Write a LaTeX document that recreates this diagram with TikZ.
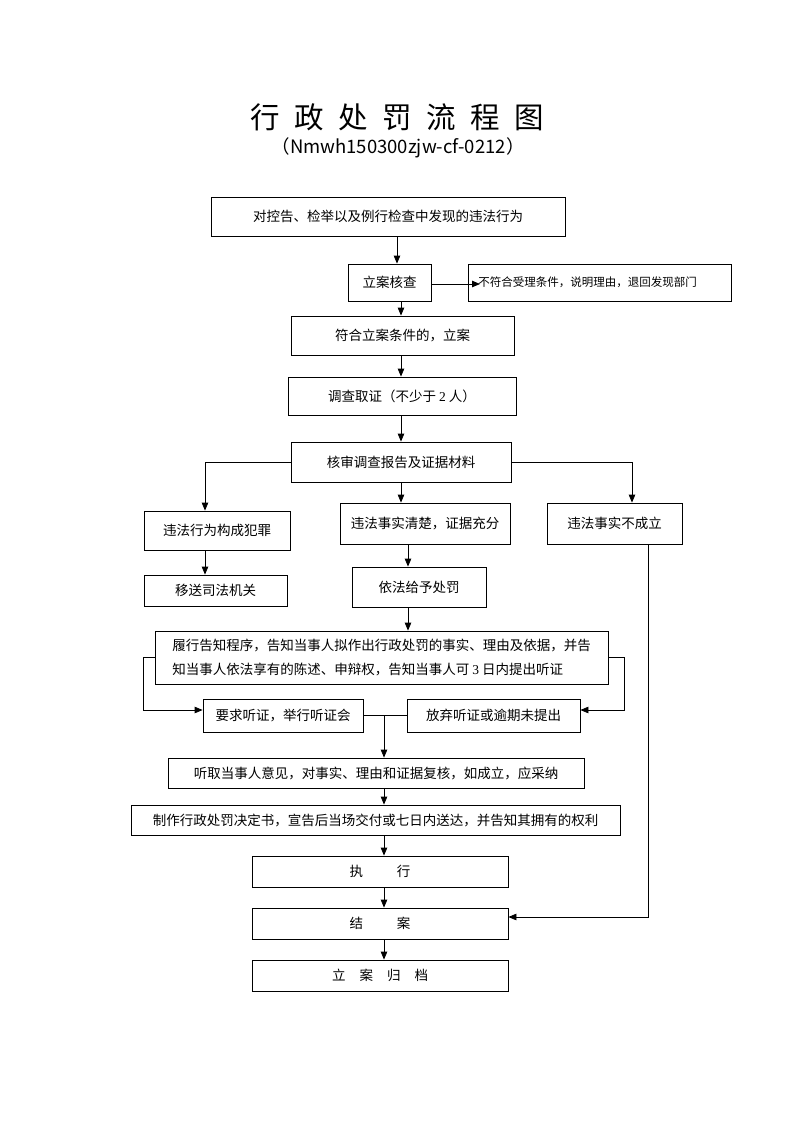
\documentclass[tikz,border=0pt]{standalone}
\usepackage{fontspec}
\setmainfont{Liberation Serif}
\newfontfamily\cjk{Noto Sans CJK SC}
\usetikzlibrary{arrows.meta,calc}
\newcommand\tsp{\hspace{14.5pt}}
\begin{document}
\begin{tikzpicture}[x=1pt,y=-1pt,
  box/.style={draw,line width=0.8pt,inner sep=0pt,font=\cjk\fontsize{13.5}{17}\selectfont,align=center},
  ln/.style={line width=0.8pt},
  arr/.style={line width=0.8pt,-{Triangle[length=8pt,width=6.5pt]}}]
\useasboundingbox[fill=white] (0,0) rectangle (793,1122);
% title
\node[font=\cjk\fontsize{29.5}{32}\selectfont] (title) at (397,117) {行\tsp 政\tsp 处\tsp 罚\tsp 流\tsp 程\tsp 图};
\node[font=\cjk\fontsize{18.5}{22}\selectfont] (sub) at (398,148) {（Nmwh150300zjw-cf-0212）};
% boxes
\node[box,minimum width=354,minimum height=39] (top) at (388,216.5) {对控告、检举以及例行检查中发现的违法行为};
\node[box,minimum width=83,minimum height=37] (lacc) at (389.5,282.5) {立案核查};
\node[box,minimum height=37,font=\cjk\fontsize{11.5}{14}\selectfont,anchor=west,text width=243,align=left,inner xsep=10] (buf) at (468,282.5) {不符合受理条件，说明理由，退回发现部门};
\node[box,minimum width=223,minimum height=39] (fh) at (402.5,335.5) {符合立案条件的，立案};
\node[box,minimum width=228,minimum height=38] (dc) at (402,396) {调查取证（不少于 {\rmfamily 2} 人）};
\node[box,minimum width=220,minimum height=40] (hs) at (401,462) {核审调查报告及证据材料};
\node[box,minimum width=146,minimum height=39] (fz) at (217,530.5) {违法行为构成犯罪};
\node[box,minimum width=170,minimum height=41] (qc) at (425,523.5) {违法事实清楚，证据充分};
\node[box,minimum width=135,minimum height=41] (bcl) at (614.5,523.5) {违法事实不成立};
\node[box,minimum width=143,minimum height=31] (ys) at (215.5,590.5) {移送司法机关};
\node[box,minimum width=134,minimum height=40] (cf) at (419,587) {依法给予处罚};
\node[box,minimum width=453,minimum height=53,align=left,font=\cjk\fontsize{13.5}{24}\selectfont] (gz) at (381.5,657.5) {履行告知程序，告知当事人拟作出行政处罚的事实、理由及依据，并告\\知当事人依法享有的陈述、申辩权，告知当事人可 {\rmfamily 3} 日内提出听证};
\node[box,minimum width=160,minimum height=33] (yq) at (283,715.5) {要求听证，举行听证会};
\node[box,minimum width=173,minimum height=33] (fq) at (493.5,715.5) {放弃听证或逾期未提出};
\node[box,minimum width=416,minimum height=30] (tq) at (376,773) {听取当事人意见，对事实、理由和证据复核，如成立，应采纳};
\node[box,minimum width=489,minimum height=30] (zz) at (375.5,820) {制作行政处罚决定书，宣告后当场交付或七日内送达，并告知其拥有的权利};
\node[box,minimum width=256,minimum height=31] (zx) at (380,871.5) {执\hspace{34pt}行};
\node[box,minimum width=256,minimum height=31] (ja) at (380,923.5) {结\hspace{34pt}案};
\node[box,minimum width=256,minimum height=31] (gd) at (380,975.5) {立\hspace{14pt}案\hspace{14pt}归\hspace{14pt}档};
% connectors
\draw[arr] ([xshift=9]top.south) -- ([xshift=9]top.south |- lacc.north);
\draw[arr] ([yshift=-1.5]lacc.east) -- ([xshift=12,yshift=-1.5]buf.west);
\draw[arr] ([xshift=11.5]lacc.south) -- ([xshift=11.5]lacc.south |- fh.north);
\draw[arr] ([xshift=-1.5]fh.south) -- ([xshift=-1.5]fh.south |- dc.north);
\draw[arr] ([xshift=-1]dc.south) -- ([xshift=-1]dc.south |- hs.north);
\draw[arr] (hs.west) -| ([xshift=-12]fz.north);
\draw[arr] (hs.south) -- (hs.south |- qc.north);
\draw[arr] (hs.east) -| ([xshift=17.5]bcl.north);
\draw[arr] ([xshift=-12]fz.south) -- ([xshift=-12]fz.south |- ys.north);
\draw[arr] ([xshift=-17]qc.south) -- ([xshift=-17]qc.south |- cf.north);
\draw[arr] ([xshift=-11]cf.south) -- ([xshift=-11]cf.south |- gz.north);
\draw[arr] (gz.west) -- ++(-11,0) |- ([yshift=5.5]yq.west);
\draw[arr] (gz.east) -- ++(16,0) |- ([yshift=5.5]fq.east);
\draw[ln] (yq.east) -- (fq.west);
\coordinate (m) at ($(yq.east)!0.477!(fq.west)$);
\draw[arr] (m) -- (m |- tq.north);
\draw[arr] ([xshift=8]tq.south) -- ([xshift=8]tq.south |- zz.north);
\draw[arr] ([xshift=8.5]zz.south) -- ([xshift=8.5]zz.south |- zx.north);
\draw[arr] ([xshift=4]zx.south) -- ([xshift=4]zx.south |- ja.north);
\draw[arr] ([xshift=4]ja.south) -- ([xshift=4]ja.south |- gd.north);
\draw[arr] ([xshift=33.5]bcl.south) |- ([yshift=6.5]ja.east);
\end{tikzpicture}
\end{document}
